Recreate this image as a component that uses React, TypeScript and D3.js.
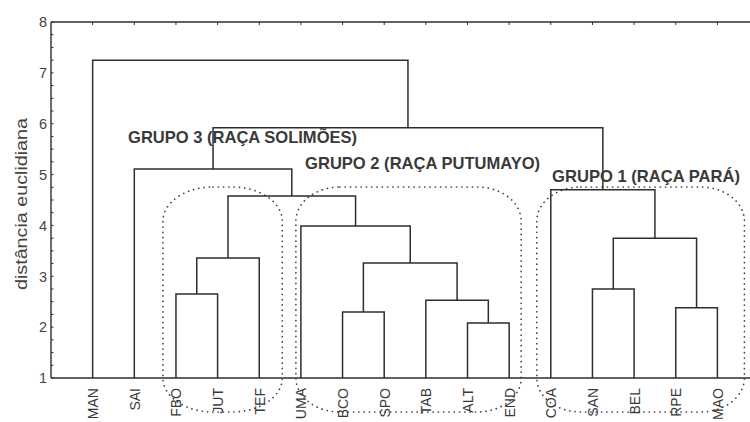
import React from "react";
import * as d3 from "d3";

// ---- data ----
const leaves = ["MAN", "SAI", "FBO", "JUT", "TEF", "UMA", "BCO", "SPO", "TAB", "ALT", "END", "COA", "SAN", "BEL", "RPE", "MAO"];
// linkage: [childA, childB, height]; ids >= 16 refer to earlier merges (16 + index)
const merges: [number, number, number][] = [
  [2, 3, 2.65],    // 16
  [9, 10, 2.08],   // 17
  [6, 7, 2.3],     // 18
  [14, 15, 2.38],  // 19
  [8, 17, 2.53],   // 20
  [12, 13, 2.75],  // 21
  [18, 20, 3.26],  // 22
  [16, 4, 3.36],   // 23
  [21, 19, 3.75],  // 24
  [5, 22, 3.99],   // 25
  [23, 25, 4.58],  // 26
  [11, 24, 4.7],   // 27
  [1, 26, 5.11],   // 28
  [28, 27, 5.92],  // 29
  [0, 29, 7.25],   // 30
];
const yTicks = [1, 2, 3, 4, 5, 6, 7, 8];
const groupNames = ["GRUPO 3 (RAÇA SOLIMÕES)", "GRUPO 2 (RAÇA PUTUMAYO)", "GRUPO 1 (RAÇA PARÁ)"];
const groupFirst = ["FBO", "UMA", "COA"];
const groupLast = ["TEF", "END", "MAO"];
const yLabel = "distância euclidiana";

// ---- layout ----
const W = 750, H = 422;
const left = 51, top = 22, bottom = 378;
const step = 41.65;
const x = d3.scaleLinear().domain([0, 1]).range([left, left + step]);
const y = d3.scaleLinear().domain([1, 8]).range([bottom, top]);
const groupPad = [[13, 23], [5, 12], [14, 27]];
const groupLabelPos = [[1.85, 5.63, 229], [6.1, 5.1, 235], [12.03, 4.86, 188]];
const boxTop = 187, boxBottom = 412;
const ink = "#2e2e2e";
const font = "'Liberation Sans', Arial, Helvetica, sans-serif";

export default function App() {
  const pos: { x: number; h: number }[] = leaves.map((_, i) => ({ x: x(i + 1), h: 1 }));
  const segs: string[] = [];
  merges.forEach(([a, b, h]) => {
    const A = pos[a], B = pos[b];
    const p = d3.path();
    p.moveTo(A.x, y(A.h));
    p.lineTo(A.x, y(h));
    p.lineTo(B.x, y(h));
    p.lineTo(B.x, y(B.h));
    segs.push(p.toString());
    pos.push({ x: (A.x + B.x) / 2, h });
  });

  const minor = d3.range(1, 8.001, 0.25);

  return (
    <svg width={W} height={H} style={{ position: "absolute", left: 0, top: 0, background: "#fff" }} fontFamily={font}>
      {/* frame */}
      <line x1={left} x2={W} y1={top} y2={top} stroke={ink} strokeWidth={1.4} />
      <line x1={left} x2={W} y1={bottom} y2={bottom} stroke={ink} strokeWidth={1.4} />
      <line x1={left} x2={left} y1={top} y2={bottom} stroke={ink} strokeWidth={1.4} />
      {minor.map((v) => (
        <line key={"m" + v} x1={left} x2={left + 2.5} y1={y(v)} y2={y(v)} stroke={ink} strokeWidth={1} />
      ))}
      {leaves.map((l, i) => (
        <line key={"t" + l} x1={x(i + 1)} x2={x(i + 1)} y1={top} y2={top + 3} stroke={ink} strokeWidth={1} />
      ))}
      {yTicks.map((v) => (
        <text key={"y" + v} x={47} y={y(v)} dy="0.36em" textAnchor="end" fontSize={14.5} fill="#444">{v}</text>
      ))}
      <text transform={`translate(21,${204}) rotate(-90)`} textAnchor="middle" dy="0.36em" fontSize={17} fill="#444" textLength={172} lengthAdjust="spacingAndGlyphs">{yLabel}</text>

      {/* dotted group outlines */}
      {groupNames.map((g, k) => {
        const x0 = x(leaves.indexOf(groupFirst[k]) + 1) - groupPad[k][0];
        const x1 = x(leaves.indexOf(groupLast[k]) + 1) + groupPad[k][1];
        return (
          <rect key={"box" + k} x={x0} y={boxTop} width={x1 - x0} height={boxBottom - boxTop} rx={k === 0 ? 50 : 44} ry={34}
            fill="none" stroke="#444" strokeWidth={1.7} strokeDasharray="0.1 5.2" strokeLinecap="round" />
        );
      })}

      {/* dendrogram */}
      {segs.map((d, i) => (
        <path key={"s" + i} d={d} fill="none" stroke={ink} strokeWidth={1.5} />
      ))}

      {/* leaf labels */}
      {leaves.map((l, i) => (
        <text key={"l" + l} transform={`translate(${x(i + 1) + 0.5},388) rotate(-90)`} textAnchor="end" dy="0.36em" fontSize={14} fill="#3a3a3a">{l}</text>
      ))}

      {/* group labels */}
      {groupNames.map((g, k) => (
        <text key={"g" + k} x={x(groupLabelPos[k][0])} y={y(groupLabelPos[k][1])} fontSize={17} fontWeight="bold" fill="#3a3a3a"
          textLength={groupLabelPos[k][2]} lengthAdjust="spacingAndGlyphs">{g}</text>
      ))}
    </svg>
  );
}
